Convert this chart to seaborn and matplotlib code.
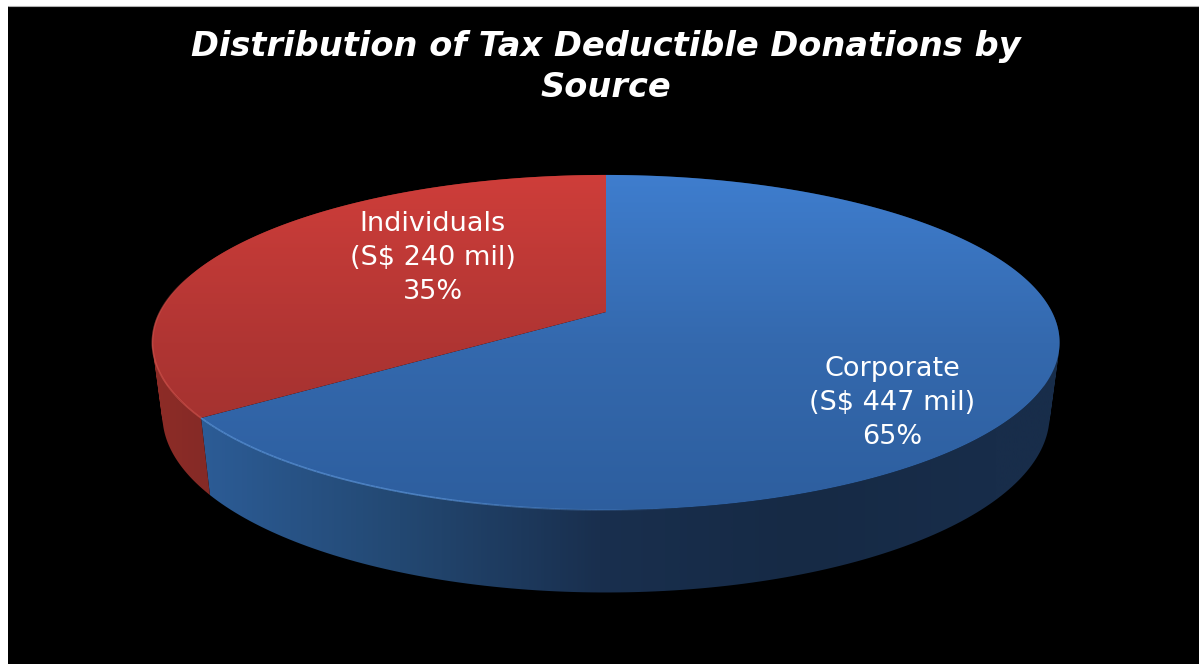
import numpy as np
import matplotlib
matplotlib.use("Agg")
import matplotlib.pyplot as plt
from matplotlib.collections import LineCollection
from matplotlib.colors import to_rgb
from matplotlib.patches import PathPatch, Rectangle
from matplotlib.path import Path
import seaborn as sns

# Donation totals in S$ million
sources = ["Corporate", "Individuals"]
amounts = [447, 240]
percent_labels = ["65%", "35%"]
title = "Distribution of Tax Deductible Donations by\nSource"

# Face and wall colour ramps for each slice
face_ramps = [["#3F7ECF", "#3469AE", "#2D5E9E"], ["#CF3E3A", "#B03533", "#98302C"]]
wall_ramps = [["#2C5C96", "#234872", "#192F4E", "#162A45", "#182D4A"], ["#8E2C27", "#842A26"]]
rim_colours = ["#5A93D8", "#D0524C"]

sns.set_theme(style="white")
plt.rcParams["font.family"] = ["DejaVu Sans"]

W, H = 1199, 664
fig = plt.figure(figsize=(W / 100, H / 100), dpi=100, facecolor="white")
ax = fig.add_axes([0, 0, 1, 1])
ax.set_xlim(0, W)
ax.set_ylim(H, 0)
ax.axis("off")

# Black panel with a thin grey line on its top edge
ax.add_patch(Rectangle((8, 6), W - 8, H - 6, facecolor="black", edgecolor="none", zorder=0))
ax.plot([8, W], [6, 6], color="#B0B0B0", lw=0.8, zorder=1)

# Perspective view of a flat disc
CX, CY = 606.0, 312.0
TILT, RX, RY = 0.182, 446.0, 162.0
BASE_SCALE, BASE_DROP = 0.978, 71.0
PIE_LEFT, PIE_RIGHT = 140, 1070


def project(theta, base=False):
    """Map a polar angle on the unit disc to page coordinates."""
    x, y = np.cos(theta), np.sin(theta)
    w = 1 + TILT * y
    s = BASE_SCALE if base else 1.0
    drop = BASE_DROP if base else 0.0
    return CX + s * RX * x / w, CY + (-s * RY * y + drop) / w


def wall_path(th):
    """Join the rim and base arcs into consistently wound quads."""
    xt, yt = project(th)
    xb, yb = project(th, base=True)
    polys = []
    for k in range(len(th) - 1):
        q = np.array([[xt[k], yt[k]], [xt[k + 1], yt[k + 1]],
                      [xb[k + 1], yb[k + 1]], [xb[k], yb[k]]])
        area = np.sum(q[:, 0] * np.roll(q[:, 1], -1) - np.roll(q[:, 0], -1) * q[:, 1])
        polys.append(q if area > 0 else q[::-1])
    return Path.make_compound_path(*[Path(np.vstack([q, q[0]]), closed=True) for q in polys])


def gradient_fill(path, colours, ramp, extent, zorder):
    """Paint a linear colour ramp clipped to a closed outline."""
    shape = PathPatch(path, facecolor="none", edgecolor="none", zorder=zorder)
    ax.add_patch(shape)
    im = ax.imshow(ramp, cmap=sns.blend_palette(colours, as_cmap=True), extent=extent, vmin=0, vmax=1,
                   aspect="auto", interpolation="bilinear", zorder=zorder)
    im.set_clip_path(shape)


# Slices run clockwise from twelve o'clock
shares = np.array(amounts, dtype=float) / np.sum(amounts)
edges = np.pi / 2 - 2 * np.pi * np.concatenate([[0], np.cumsum(shares)])
wall_spans = [(200, 1000), (150, 212)]

# Side walls first, the top faces then cover their rear part
page_x = np.linspace(PIE_LEFT, PIE_RIGHT, 512)
for i in range(len(sources)):
    th = np.linspace(edges[i], edges[i + 1], 241)
    lo, hi = wall_spans[i]
    ramp = np.clip((page_x - lo) / (hi - lo), 0, 1).reshape(1, -1)
    gradient_fill(wall_path(th), wall_ramps[i], ramp, (PIE_LEFT, PIE_RIGHT, 600, 160), 2)

# Top faces with a vertical gradient clipped to each slice
for i in range(len(sources)):
    th = np.linspace(edges[i], edges[i + 1], 361)
    xt, yt = project(th)
    outline = np.column_stack([np.r_[CX, xt, CX], np.r_[CY, yt, CY]])
    ramp = np.linspace(0, 1, 256).reshape(-1, 1)
    gradient_fill(Path(outline, closed=True), face_ramps[i], ramp, (PIE_LEFT, PIE_RIGHT, 515, 170), 3)
    # Soft highlight fading out along the front part of the rim
    segs = np.stack([np.column_stack([xt[:-1], yt[:-1]]), np.column_stack([xt[1:], yt[1:]])], axis=1)
    if i == 0:
        fade = np.clip((690 - xt[:-1]) / 250, 0, 1) * (np.sin(th[:-1]) < 0)
    else:
        fade = np.clip((0.25 - np.sin(th[:-1])) / 0.3, 0, 1)
    rgba = np.column_stack([np.tile(to_rgb(rim_colours[i]), (len(segs), 1)), 0.75 * fade])
    ax.add_collection(LineCollection(segs, colors=rgba, linewidths=1.2, zorder=4))

ax.set_xlim(0, W)
ax.set_ylim(H, 0)

label_font = {"color": "white", "fontsize": 19.5, "ha": "center", "va": "center",
              "linespacing": 1.38, "zorder": 5}
label_pos = [(892, 403), (433, 258)]
for name, amount, pct, (lx, ly) in zip(sources, amounts, percent_labels, label_pos):
    ax.text(lx, ly, f"{name}\n(S$ {amount} mil)\n{pct}", **label_font)

ax.text(606, 67, title, color="white", fontsize=24.2, fontweight="bold", fontstyle="italic",
        ha="center", va="center", linespacing=1.27, zorder=5)

fig.savefig("out.png", dpi=100, facecolor="white")
